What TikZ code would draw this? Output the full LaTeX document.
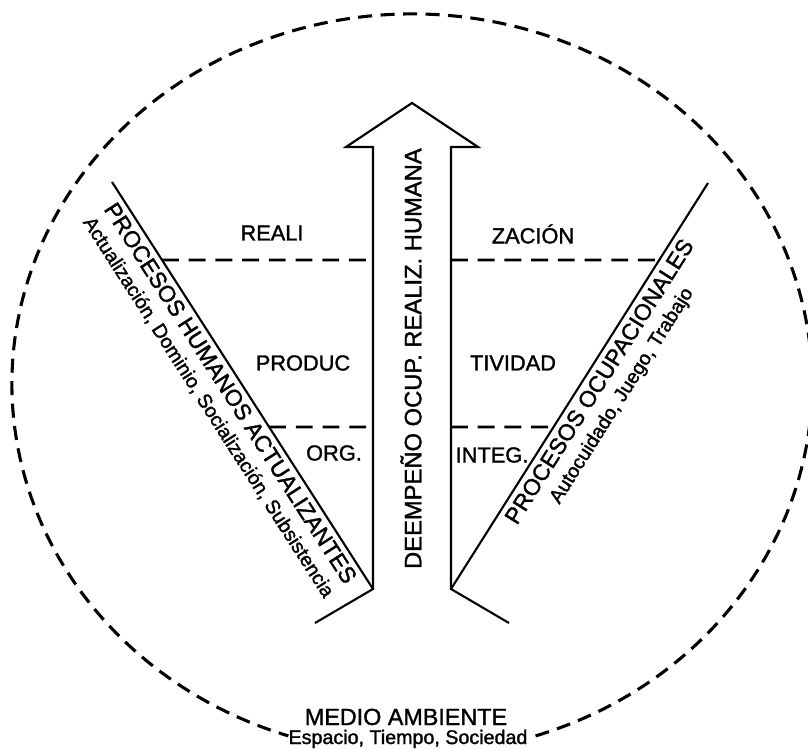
\documentclass[tikz,border=0pt]{standalone}
\usepackage{fontspec}
\setmainfont{Liberation Sans}[FakeBold=1.5]
\usetikzlibrary{arrows,positioning,calc}
\newcommand{\subtexto}{\fontsize{14}{17}\selectfont}
\tikzset{
  %Define style for solid lines
  linea/.style={line width=1.5pt, line join=miter},
  %Define style for dashed levels
  nivel/.style={line width=2pt, dash pattern=on 12pt off 7pt},
  %Define style for the environment
  medio/.style={line width=2.2pt, dash pattern=on 10pt off 6pt},
  %Define style for level labels
  etiqueta/.style={inner sep=0pt, font=\fontsize{15.5}{18}\selectfont},
  %Define style for slanted titles
  proceso/.style={align=center, inner sep=2pt, font=\fontsize{16.3}{17.5}\selectfont}
}

\begin{document}
\begin{tikzpicture}
  \useasboundingbox (0,0) rectangle (20.2,18.725);
  % points of the figure
  \coordinate (centro) at (10.3,9.125);
  \coordinate (Ltop) at (2.8,14.175);
  \coordinate (Lbot) at (9.325,4.0);
  \coordinate (Lpie) at (7.875,3.15);
  \coordinate (Rtop) at (17.7,14.15);
  \coordinate (Rbot) at (11.275,4.0);
  \coordinate (Rpie) at (12.725,3.15);
  \coordinate (punta) at (10.3,16.15);

  % environment
  \draw[medio] ($(centro)+(-72:10cm and 9.25cm)$)
    arc[start angle=-72, end angle=252, x radius=10cm, y radius=9.25cm];

  % arrow
  \draw[linea] (Lbot) -- (Lbot |- 0,15.05) -- (8.65,15.05) -- (punta)
    -- (11.95,15.05) -- (Rbot |- 0,15.05) -- (Rbot);
  \node[rotate=90, font=\fontsize{16.9}{18}\selectfont] (desempeno) at (10.275,9.76)
    {DEEMPEÑO OCUP. REALIZ. HUMANA};

  % slanted processes
  \draw[linea] (Ltop) -- (Lbot) -- (Lpie);
  \path (Ltop) -- (Lbot) node[proceso, midway, sloped, below=2pt] (humanos)
    {PROCESOS HUMANOS ACTUALIZANTES\\{\subtexto Actualización, Dominio, Socialización, Subsistencia}};
  \draw[linea] (Rtop) -- (Rbot) -- (Rpie);
  \path (Rbot) -- (Rtop) node[proceso, pos=0.53, sloped, below=2pt] (ocupacionales)
    {PROCESOS OCUPACIONALES\\{\subtexto Autocuidado, Juego, Trabajo}};

  % levels
  \draw[nivel] ($(Ltop)!0.1916!(Lbot)$) -- (Lbot |- 0,12.225);
  \draw[nivel] (Rbot |- 0,12.225) -- ($(Rbot)!0.8103!(Rtop)$);
  \draw[nivel] ($(Ltop)!0.602!(Lbot)$) -- (Lbot |- 0,8.05);
  \draw[nivel] (Rbot |- 0,8.05) -- ($(Rbot)!0.399!(Rtop)$);

  \node[etiqueta] (reali) at (6.8,12.9) {REALI};
  \node[etiqueta] (zacion) at (13.325,12.875) {ZACIÓN};
  \node[etiqueta] (produc) at (7.575,9.65) {PRODUC};
  \node[etiqueta] (tividad) at (12.825,9.65) {TIVIDAD};
  \node[etiqueta] (org) at (8.35,7.4) {ORG.};
  \node[etiqueta] (integ) at (12.3,7.35) {INTEG.};

  % environment labels
  \node[anchor=base, font=\fontsize{16.6}{18}\selectfont] (ambiente) at (10.15,0.6) {MEDIO AMBIENTE};
  \node[anchor=base, font=\subtexto] (espacio) at (10.2,0.125) {Espacio, Tiempo, Sociedad};
\end{tikzpicture}
\end{document}
